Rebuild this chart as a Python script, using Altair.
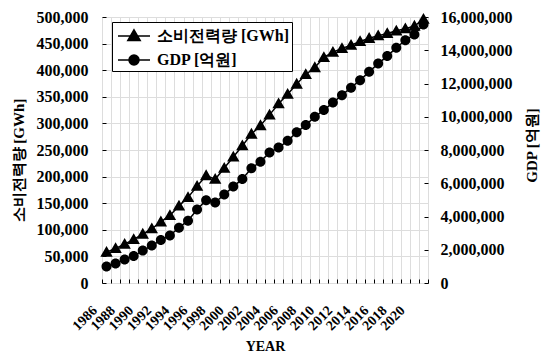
import altair as alt
import pandas as pd

years = list(range(1986, 2022))
elec_gwh = [58000, 65000, 73000, 82000, 92000, 102000, 115000, 127000, 145000, 161000,
            182000, 202000, 195000, 216000, 237000, 258000, 280000, 296000, 316000, 337000,
            355000, 374000, 392000, 405000, 424000, 434000, 441000, 447000, 454000, 460000,
            465000, 469000, 474000, 478000, 483000, 496000]
gdp_eok = [1000000, 1170000, 1420000, 1620000, 1950000, 2250000, 2580000, 2860000, 3330000, 3750000,
           4420000, 4980000, 4840000, 5320000, 5800000, 6260000, 6900000, 7300000, 7850000, 8150000,
           8550000, 9070000, 9500000, 10000000, 10400000, 10850000, 11300000, 11750000, 12200000, 12700000,
           13200000, 13650000, 14150000, 14600000, 14950000, 15550000]
series_names = ["소비전력량 [GWh]", "GDP [억원]"]
left_ticks = list(range(0, 500001, 50000))
right_ticks = list(range(0, 16000001, 2000000))
# category boundaries (Excel-style ticks between years)
year_edges = [y - 0.5 for y in years] + [years[-1] + 0.5]

df = pd.DataFrame({"year": years, "elec": elec_gwh, "gdp": gdp_eok})

FONT = "Liberation Serif"
TRI = "M-1.6,0H1.6M0,-0.62L0.62,0.46L-0.62,0.46Z"
CIRC = "M-1.6,0H1.6M0.5,0A0.5,0.5,0,1,1,-0.5,0A0.5,0.5,0,1,1,0.5,0Z"

W, H = 326, 266
half_step = W / len(years) / 2

shape_scale = alt.Scale(domain=series_names, range=[TRI, CIRC])
legend = alt.Legend(
    title=None, orient="none", legendX=10, legendY=5,
    strokeColor="black", fillColor="white", padding=3,
    labelFont=FONT, labelFontWeight="bold", labelFontSize=16, labelColor="black",
    symbolSize=400, symbolOffset=8, labelOffset=12, rowPadding=5,
)

x_enc = alt.X(
    "year:Q", title="YEAR",
    scale=alt.Scale(domain=[year_edges[0], year_edges[-1]], nice=False, zero=False),
    axis=alt.Axis(
        values=year_edges, offset=-4, tickSize=4, tickColor="black", domain=False,
        labelAngle=315, labelAlign="right", labelBaseline="middle",
        labelOffset=half_step - 12, labelPadding=25, labelOverlap=False, labelFlush=False,
        labelExpr=f"(datum.value + 0.5) % 2 == 0 && datum.value < {years[-1]} ? format(datum.value + 0.5, 'd') : ''",
        labelFont=FONT, labelFontWeight="bold", labelFontSize=14, labelColor="black",
        titleFont=FONT, titleFontWeight="bold", titleFontSize=14, titleColor="black",
        titleY=67, titleAlign="center", titleBaseline="middle",
    ),
)

y_left = alt.Y(
    "elec:Q", title=series_names[0],
    scale=alt.Scale(domain=[0, 500000], nice=False),
    axis=alt.Axis(
        values=left_ticks, format=",.0f", offset=-4, tickSize=4, tickColor="black", domain=False,
        labelPadding=14, labelFont=FONT, labelFontWeight="bold", labelFontSize=16, labelColor="black",
        titleFont=FONT, titleFontWeight="bold", titleFontSize=15, titleColor="black",
        titleAngle=270, titleX=-88, titleY=143, titleAlign="center", titleBaseline="middle",
    ),
)

y_right = alt.Y(
    "gdp:Q", title=series_names[1],
    scale=alt.Scale(domain=[0, 16000000], nice=False),
    axis=alt.Axis(
        orient="right", values=right_ticks, format=",.0f", offset=-4, tickSize=4, tickColor="black",
        domain=False, labelPadding=12, labelFont=FONT, labelFontWeight="bold", labelFontSize=16,
        labelColor="black",
        titleFont=FONT, titleFontWeight="bold", titleFontSize=15, titleColor="black",
        titleAngle=270, titleX=107, titleY=128, titleAlign="center", titleBaseline="middle",
    ),
)

shape_enc = alt.Shape("series:N", scale=shape_scale, legend=legend)

base = alt.Chart(df).encode(x=x_enc)

elec_line = base.mark_line(color="black", stroke="black", strokeWidth=1.5).encode(y=y_left)
elec_pts = (
    base.transform_calculate(series=f"'{series_names[0]}'")
    .mark_point(filled=True, fill="black", stroke="black", strokeWidth=1.5, size=400, opacity=1)
    .encode(y=y_left, shape=shape_enc, strokeWidth=alt.value(0))
)
gdp_line = base.mark_line(color="black", stroke="black", strokeWidth=1.5).encode(y=y_right)
gdp_pts = (
    base.transform_calculate(series=f"'{series_names[1]}'")
    .mark_point(filled=True, fill="black", stroke="black", strokeWidth=1.5, size=400, opacity=1)
    .encode(y=y_right, shape=shape_enc, strokeWidth=alt.value(0))
)

left = alt.layer(elec_line, elec_pts)
right = alt.layer(gdp_line, gdp_pts)

chart = (
    alt.layer(left, right)
    .resolve_scale(y="independent")
    .properties(
        width=W, height=H,
        autosize=alt.AutoSizeParams(type="none"),
        padding={"left": 94, "top": 9, "right": 114, "bottom": 70},
    )
    .configure_view(stroke="black", strokeWidth=1.5)
    .configure_axis(grid=False)
    .configure(background="white")
)

chart.save("out.html", embed_options={"renderer": "svg", "actions": False})
